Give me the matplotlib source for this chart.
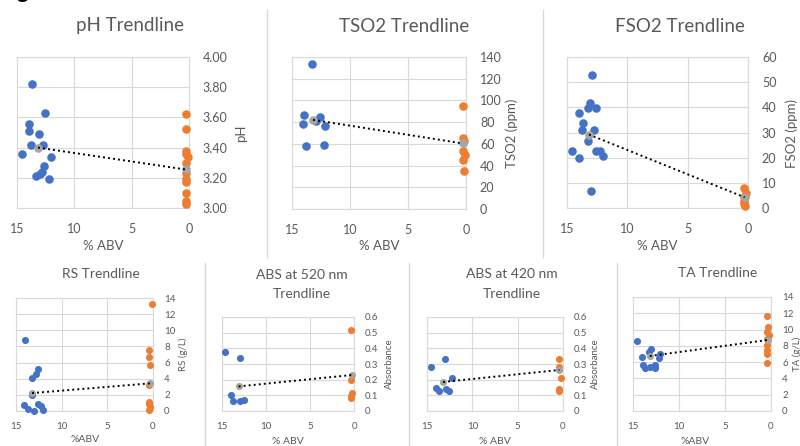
import matplotlib
matplotlib.use("Agg")
import matplotlib.pyplot as plt
from matplotlib.ticker import MultipleLocator, FuncFormatter

plt.rcParams['font.family'] = ['Lato', 'DejaVu Sans']

BLUE = '#4472C4'
ORANGE = '#ED7D31'
GRAY = '#A5A5A5'
GRID = '#D9D9D9'
TXT = '#595959'

# ---------------- data ----------------
ph_wine_abv = [13.69, 12.59, 13.98, 13.98, 13.05, 13.78, 12.76, 14.56, 12.03, 12.62, 12.82, 13.02, 13.31, 12.18]
ph_wine = [3.82, 3.63, 3.555, 3.51, 3.49, 3.42, 3.415, 3.36, 3.34, 3.275, 3.24, 3.225, 3.21, 3.19]
ph_dealc_abv = [0.3, 0.3, 0.3, 0.25, 0.1, 0.3, 0.3, 0.3, 0.3, 0.3, 0.25, 0.25]
ph_dealc = [3.625, 3.52, 3.38, 3.36, 3.34, 3.30, 3.23, 3.19, 3.17, 3.10, 3.045, 3.025]
ph_mean_abv = [13.17, 0.29]
ph_mean = [3.40, 3.255]

tso2_wine_abv = [13.28, 14.0, 14.05, 12.62, 12.94, 12.13, 13.8, 12.22]
tso2_wine = [133.5, 86.8, 78.7, 84.9, 80.9, 76.8, 57.9, 58.5]
tso2_dealc_abv = [0.23, 0.3, 0.2, 0.3, 0.05, 0.3, 0.2]
tso2_dealc = [94.6, 65.3, 62.8, 53.5, 49.8, 44.8, 34.8]
tso2_mean_abv = [13.19, 0.28]
tso2_mean = [82.1, 60.4]

fso2_wine_abv = [12.94, 13.07, 13.29, 12.6, 13.98, 13.7, 13.76, 12.8, 13.29, 14.59, 12.6, 12.25, 12.03, 13.98, 13.02]
fso2_wine = [52.8, 41.8, 39.8, 39.8, 37.8, 33.7, 30.8, 30.8, 26.8, 22.8, 22.8, 22.6, 20.7, 19.9, 6.8]
fso2_dealc_abv = [0.3, 0.2, 0.3, 0.35, 0.3, 0.25]
fso2_dealc = [8.0, 5.8, 4.2, 2.9, 1.6, 0.8]
fso2_mean_abv = [13.18, 0.28]
fso2_mean = [29.2, 4.25]

rs_wine_abv = [14.02, 12.63, 12.85, 13.25, 13.29, 14.09, 13.73, 13.0, 12.56, 12.31, 12.09]
rs_wine = [8.81, 5.23, 4.61, 4.08, 2.02, 0.70, 0.29, 0.04, 0.82, 0.58, 0.16]
rs_dealc_abv = [0.1, 0.4, 0.4, 0.3, 0.45, 0.4, 0.4, 0.3, 0.4]
rs_dealc = [13.26, 7.58, 6.67, 5.64, 3.25, 1.11, 0.82, 0.49, 0.16]
rs_mean_abv = [13.25, 0.35]
rs_mean = [2.22, 3.42]

a520_wine_abv = [14.62, 12.92, 13.98, 13.75, 12.92, 12.54]
a520_wine = [0.377, 0.338, 0.104, 0.064, 0.064, 0.068]
a520_dealc_abv = [0.3, 0.3, 0.25, 0.3, 0.3]
a520_dealc = [0.52, 0.196, 0.115, 0.096, 0.083]
a520_mean_abv = [13.11, 0.2]
a520_mean = [0.157, 0.23]

a420_wine_abv = [14.59, 12.97, 12.23, 14.04, 13.71, 12.86, 12.6]
a420_wine = [0.283, 0.330, 0.209, 0.145, 0.128, 0.138, 0.128]
a420_dealc_abv = [0.45, 0.45, 0.25, 0.45, 0.45]
a420_dealc = [0.33, 0.283, 0.209, 0.143, 0.128]
a420_mean_abv = [13.23, 0.4]
a420_mean = [0.185, 0.262]

ta_wine_abv = [14.56, 13.98, 13.0, 13.25, 13.91, 13.73, 13.18, 12.63, 12.63, 12.09, 12.2]
ta_wine = [8.65, 6.59, 7.62, 7.29, 5.64, 5.23, 5.44, 5.64, 5.23, 7.0, 6.46]
ta_dealc_abv = [0.4, 0.3, 0.4, 0.2, 0.4, 0.4, 0.4, 0.4, 0.4]
ta_dealc = [11.69, 10.29, 9.76, 9.35, 8.81, 8.11, 7.49, 7.0, 5.93]
ta_mean_abv = [13.18, 0.3]
ta_mean = [6.75, 8.73]

x_ticks = [15, 10, 5, 0]

# ---------------- figure ----------------
W, H = 800, 446
fig = plt.figure(figsize=(W / 100, H / 100), dpi=100)
fig.patch.set_facecolor('white')


def px_axes(l, t, r, b):
    return fig.add_axes([l / W, 1 - b / H, (r - l) / W, (b - t) / H])


def ftext(x, y, s, **kw):
    kw.setdefault('color', TXT)
    kw.setdefault('ha', 'center')
    kw.setdefault('va', 'center')
    fig.text(x / W, 1 - y / H, s, **kw)


def vline(x, y0, y1):
    fig.add_artist(plt.Line2D([x / W, x / W], [1 - y0 / H, 1 - y1 / H],
                              color=GRID, lw=1.0, transform=fig.transFigure))


def panel(box, wx, wy, dx, dy, mx, my, ylim, ystep, yfmt, tick_fs, ms,
          xpad, ypad):
    ax = px_axes(*box)
    ax.set_xlim(15, 0)
    ax.set_ylim(*ylim)
    ax.set_xticks(x_ticks)
    ax.yaxis.set_major_locator(MultipleLocator(ystep))
    ax.yaxis.set_major_formatter(FuncFormatter(yfmt))
    ax.yaxis.tick_right()
    ax.tick_params(axis='both', length=0, labelsize=tick_fs, colors=TXT)
    ax.tick_params(axis='x', pad=xpad)
    ax.tick_params(axis='y', pad=ypad)
    ax.grid(True, color=GRID, lw=0.8)
    ax.set_axisbelow(True)
    for sp in ax.spines.values():
        sp.set_color(GRID)
        sp.set_linewidth(0.8)
    ax.scatter(wx, wy, s=ms, color=BLUE, zorder=3, clip_on=False, linewidths=0)
    ax.scatter(dx, dy, s=ms, color=ORANGE, zorder=3, clip_on=False, linewidths=0)
    ax.scatter(mx, my, s=ms, color=GRAY, zorder=4, clip_on=False, linewidths=0)
    ax.plot(mx, my, color='black', lw=1.4, ls=(0, (1, 1.6)), zorder=5)
    return ax


f2 = lambda v, p: f"{v:.2f}"
fi = lambda v, p: f"{v:.0f}"
f1 = lambda v, p: "0" if abs(v) < 1e-9 else f"{v:.1f}"

TOP_MS = 38
BOT_MS = 26

panel((17, 57, 189, 208), ph_wine_abv, ph_wine, ph_dealc_abv, ph_dealc,
      ph_mean_abv, ph_mean, (3.0, 4.0), 0.2, f2, 9, TOP_MS, 11, 10)
panel((292, 57, 466, 209), tso2_wine_abv, tso2_wine, tso2_dealc_abv, tso2_dealc,
      tso2_mean_abv, tso2_mean, (0, 140), 20, fi, 9, TOP_MS, 11, 10)
panel((567, 57, 748, 208), fso2_wine_abv, fso2_wine, fso2_dealc_abv, fso2_dealc,
      fso2_mean_abv, fso2_mean, (0, 60), 10, fi, 9, TOP_MS, 11, 10)
panel((16, 298, 153, 411), rs_wine_abv, rs_wine, rs_dealc_abv, rs_dealc,
      rs_mean_abv, rs_mean, (0, 14), 2, fi, 7, BOT_MS, 8, 8)
panel((222, 317, 354, 411), a520_wine_abv, a520_wine, a520_dealc_abv, a520_dealc,
      a520_mean_abv, a520_mean, (0, 0.6), 0.1, f1, 7, BOT_MS, 8, 8)
panel((427, 317, 563, 411), a420_wine_abv, a420_wine, a420_dealc_abv, a420_dealc,
      a420_mean_abv, a420_mean, (0, 0.6), 0.1, f1, 7, BOT_MS, 8, 8)
panel((633, 297, 771, 411), ta_wine_abv, ta_wine, ta_dealc_abv, ta_dealc,
      ta_mean_abv, ta_mean, (0, 14), 2, fi, 7, BOT_MS, 8, 8)

# titles
ftext(130, 26, "pH Trendline", fontsize=13.5)
ftext(404, 26, "TSO2 Trendline", fontsize=13.5)
ftext(680, 26, "FSO2 Trendline", fontsize=13.5)
ftext(101, 274, "RS Trendline", fontsize=10)
ftext(302, 275, "ABS at 520 nm", fontsize=10)
ftext(302, 294, "Trendline", fontsize=10)
ftext(512, 274, "ABS at 420 nm", fontsize=10)
ftext(512, 294, "Trendline", fontsize=10)
ftext(718, 273, "TA Trendline", fontsize=10)

# y labels (right side)
ftext(241, 133, "pH", fontsize=9.5, rotation=90)
ftext(512, 133, "TSO2 (ppm)", fontsize=9.5, rotation=90)
ftext(792, 133, "FSO2 (ppm)", fontsize=9.5, rotation=90)
ftext(183, 354, "RS (g/L)", fontsize=7, rotation=90)
ftext(389, 364, "Absorbance", fontsize=7, rotation=90)
ftext(595, 364, "Absorbance", fontsize=7, rotation=90)
ftext(797, 354, "TA (g/L)", fontsize=7, rotation=90)

# x labels
ftext(103, 246, "% ABV", fontsize=9.5)
ftext(379, 246, "% ABV", fontsize=9.5)
ftext(657, 246, "% ABV", fontsize=9.5)
ftext(85, 440, "%ABV", fontsize=7.5)
ftext(288, 441, "% ABV", fontsize=7.5)
ftext(495, 441, "% ABV", fontsize=7.5)
ftext(695, 441, "%ABV", fontsize=7.5)

# separators
vline(267, 10, 257)
vline(543, 10, 257)
vline(205, 263, 446)
vline(409, 263, 446)
vline(617, 263, 446)

# cut-off heading glyph at the very top
fig.text(22 / W, 1 + 2 / H, "g", fontsize=16, fontweight='bold', color='black',
         ha='center', va='baseline')

fig.savefig("out.png", dpi=100, facecolor='white')
